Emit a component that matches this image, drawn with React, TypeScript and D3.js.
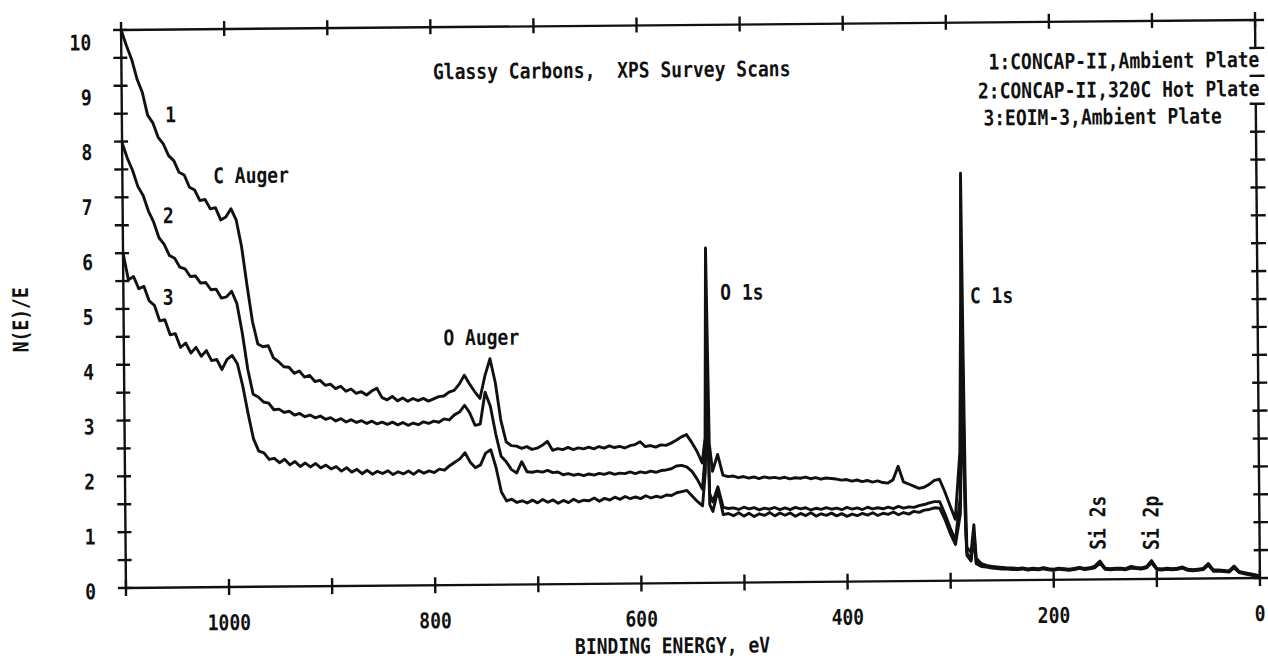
import * as d3 from "d3";

const W = 1268;
const H = 658;
const M = { left: 123.5, right: 1257.5, top: 25, bottom: 583 };
const TILT = -0.5; // the scanned page sits slightly askew
const FONT = "'DejaVu Sans Mono', 'Liberation Mono', monospace";
const INK = "#111";

// binding energy channels, eV (denser around the O 1s and C 1s lines)
const energy = [
  1100, 1095, 1090, 1085, 1080, 1075, 1070, 1065, 1060, 1055,
  1050, 1045, 1040, 1035, 1030, 1025, 1020, 1015, 1010, 1005,
  1000, 995, 990, 985, 980, 975, 970, 965, 960, 955,
  950, 945, 940, 935, 930, 925, 920, 915, 910, 905,
  900, 895, 890, 885, 880, 875, 870, 865, 860, 855,
  850, 845, 840, 835, 830, 825, 820, 815, 810, 805,
  800, 795, 790, 785, 780, 775, 770, 765, 760, 755,
  750, 745, 740, 735, 730, 725, 720, 715, 710, 705,
  700, 695, 690, 685, 680, 675, 670, 665, 660, 655,
  650, 645, 640, 635, 630, 625, 620, 615, 610, 605,
  600, 595, 590, 585, 580, 575, 570, 565, 560, 555,
  550, 545, 540, 537, 535, 533, 530, 525, 520, 515,
  510, 505, 500, 495, 490, 485, 480, 475, 470, 465,
  460, 455, 450, 445, 440, 435, 430, 425, 420, 415,
  410, 405, 400, 395, 390, 385, 380, 375, 370, 365,
  360, 355, 350, 345, 340, 335, 330, 325, 320, 315,
  310, 305, 300, 295, 290, 288, 287, 286, 285, 284,
  280, 277, 275, 270, 265, 260, 255, 250, 245, 240,
  235, 230, 225, 220, 215, 210, 205, 200, 195, 190,
  185, 180, 175, 170, 165, 160, 155, 150, 145, 140,
  135, 130, 125, 120, 115, 110, 105, 100, 95, 90,
  85, 80, 75, 70, 65, 60, 55, 50, 45, 40,
  35, 30, 25, 20, 15, 10, 5, 0,
];

// 1: CONCAP-II, ambient plate
const scan1 = [
  10.0, 9.72, 9.47, 9.12, 8.88, 8.47, 8.33, 8.07, 7.95, 7.74,
  7.65, 7.44, 7.39, 7.17, 7.12, 6.93, 6.95, 6.78, 6.8, 6.58,
  6.63, 6.78, 6.58, 6.1, 5.4, 4.75, 4.35, 4.3, 4.32, 4.1,
  4.03, 3.94, 3.93, 3.82, 3.86, 3.75, 3.78, 3.67, 3.69, 3.6,
  3.62, 3.54, 3.58, 3.49, 3.53, 3.45, 3.48, 3.42, 3.49, 3.54,
  3.37, 3.33, 3.39, 3.31, 3.36, 3.3, 3.35, 3.31, 3.35, 3.3,
  3.34, 3.38, 3.39, 3.46, 3.49, 3.6, 3.76, 3.6, 3.46, 3.34,
  3.75, 4.05, 3.62, 2.95, 2.56, 2.49, 2.48, 2.44, 2.47, 2.42,
  2.44, 2.49, 2.56, 2.4, 2.43, 2.41, 2.45, 2.41, 2.44, 2.42,
  2.45, 2.42, 2.46, 2.43, 2.47, 2.44, 2.46, 2.43, 2.47, 2.49,
  2.54, 2.45, 2.47, 2.44, 2.48, 2.47, 2.51, 2.56, 2.62, 2.66,
  2.52, 2.36, 2.15, 2.6, 6.0, 2.5, 2.0, 2.3, 1.93, 1.9,
  1.91, 1.88, 1.9, 1.87, 1.89, 1.86, 1.89, 1.87, 1.88, 1.86,
  1.88, 1.85, 1.87, 1.86, 1.88, 1.85, 1.87, 1.84, 1.86, 1.85,
  1.84, 1.82, 1.83, 1.8, 1.82, 1.79, 1.81, 1.78, 1.8, 1.77,
  1.76, 1.82, 2.06, 1.78, 1.74, 1.7, 1.66, 1.68, 1.73, 1.8,
  1.82, 1.6, 1.35, 1.1, 2.3, 5.0, 7.3, 4.0, 1.6, 0.6,
  0.5, 1.0, 0.4, 0.3, 0.27, 0.25, 0.24, 0.23, 0.22, 0.22,
  0.21, 0.22, 0.2, 0.21, 0.2, 0.22, 0.2, 0.19, 0.21, 0.2,
  0.19, 0.2, 0.22, 0.2, 0.21, 0.24, 0.33, 0.2, 0.19, 0.2,
  0.2, 0.19, 0.23, 0.21, 0.2, 0.22, 0.33, 0.19, 0.18, 0.19,
  0.18, 0.19, 0.21, 0.17, 0.16, 0.17, 0.18, 0.27, 0.15, 0.15,
  0.14, 0.13, 0.22, 0.12, 0.1, 0.08, 0.06, 0.04,
];

// 2: CONCAP-II, 320C hot plate
const scan2 = [
  7.98, 7.7, 7.48, 7.19, 7.03, 6.75, 6.55, 6.27, 6.15, 5.95,
  5.9, 5.74, 5.71, 5.57, 5.58, 5.45, 5.46, 5.33, 5.34, 5.18,
  5.2, 5.3, 5.08, 4.55, 3.9, 3.45, 3.4, 3.31, 3.29, 3.17,
  3.18, 3.12, 3.14, 3.07, 3.1, 3.04, 3.07, 3.02, 3.05, 2.99,
  3.02, 2.96, 3.0, 2.94, 2.98, 2.93, 2.96, 2.91, 2.95, 2.9,
  2.93, 2.89, 2.93, 2.88, 2.92, 2.87, 2.91, 2.88, 2.93, 2.9,
  2.94, 2.92, 2.98, 2.96, 3.05, 3.1, 3.22, 3.08, 2.86, 2.88,
  3.45, 3.2, 2.7, 2.3, 2.2, 2.06, 2.0, 2.2, 2.02, 2.01,
  2.03, 2.01, 2.04, 2.0, 2.01, 1.96, 1.98, 1.95, 1.97, 1.94,
  1.97, 1.95, 1.98, 1.96, 1.99, 1.96, 1.98, 1.97, 2.0, 1.97,
  2.0, 1.98, 2.01, 1.99, 2.02, 2.03, 2.05, 2.1, 2.11, 2.08,
  2.0, 1.86, 1.68, 2.3, 4.0, 1.6, 1.45, 1.72, 1.35, 1.33,
  1.34, 1.31, 1.35, 1.32, 1.34, 1.3, 1.33, 1.31, 1.34, 1.3,
  1.33, 1.3, 1.34, 1.31, 1.33, 1.29, 1.32, 1.3, 1.33, 1.3,
  1.32, 1.29, 1.33, 1.3, 1.32, 1.29, 1.33, 1.3, 1.32, 1.3,
  1.33, 1.3, 1.34, 1.31, 1.33, 1.32, 1.35, 1.37, 1.4, 1.42,
  1.42, 1.2, 0.95, 0.72, 1.5, 3.5, 5.0, 2.5, 1.0, 0.5,
  0.38, 0.85, 0.32, 0.27, 0.25, 0.24, 0.23, 0.22, 0.21, 0.21,
  0.2, 0.21, 0.19, 0.2, 0.19, 0.21, 0.19, 0.18, 0.2, 0.19,
  0.18, 0.19, 0.21, 0.19, 0.2, 0.22, 0.3, 0.19, 0.18, 0.19,
  0.19, 0.18, 0.21, 0.2, 0.19, 0.21, 0.3, 0.18, 0.17, 0.18,
  0.17, 0.18, 0.2, 0.16, 0.15, 0.16, 0.17, 0.25, 0.14, 0.14,
  0.13, 0.12, 0.2, 0.11, 0.09, 0.07, 0.05, 0.03,
];

// 3: EOIM-3, ambient plate
const scan3 = [
  6.0, 5.52, 5.58, 5.36, 5.4, 5.14, 5.06, 4.78, 4.8, 4.53,
  4.55, 4.3, 4.38, 4.2, 4.3, 4.14, 4.24, 4.06, 4.08, 3.9,
  4.08, 4.15, 4.0, 3.6, 3.1, 2.65, 2.43, 2.4, 2.28, 2.3,
  2.22, 2.28, 2.18, 2.24, 2.15, 2.21, 2.14, 2.2, 2.12, 2.17,
  2.1, 2.14, 2.06, 2.12, 2.04, 2.09, 2.01, 2.07, 2.0, 2.05,
  2.01, 2.06, 1.99, 2.04, 2.0, 2.05, 1.99, 2.06, 2.01, 2.05,
  2.02, 2.08, 2.06, 2.14, 2.2, 2.26, 2.37, 2.2, 2.1, 2.15,
  2.36, 2.42, 2.1, 1.66, 1.5, 1.53, 1.47, 1.5, 1.46, 1.51,
  1.46, 1.52, 1.47, 1.51, 1.45, 1.5, 1.46, 1.52, 1.47, 1.5,
  1.49, 1.54, 1.48, 1.53, 1.5, 1.55, 1.51, 1.56, 1.52, 1.55,
  1.52, 1.57, 1.53, 1.56, 1.54, 1.58, 1.57, 1.62, 1.64, 1.66,
  1.56, 1.46, 1.38, 2.0, 3.5, 1.4, 1.28, 1.66, 1.22, 1.24,
  1.2, 1.25, 1.19, 1.24, 1.18, 1.23, 1.2, 1.25, 1.19, 1.24,
  1.2, 1.24, 1.18, 1.23, 1.19, 1.24, 1.18, 1.22, 1.19, 1.23,
  1.18, 1.22, 1.17, 1.21, 1.18, 1.22, 1.19, 1.23, 1.18, 1.22,
  1.2, 1.24, 1.19, 1.23, 1.2, 1.25, 1.23, 1.27, 1.28, 1.31,
  1.3, 1.1, 0.85, 0.65, 1.2, 2.8, 4.0, 2.0, 0.9, 0.45,
  0.35, 0.8, 0.3, 0.25, 0.24, 0.22, 0.21, 0.2, 0.2, 0.19,
  0.19, 0.2, 0.18, 0.19, 0.18, 0.2, 0.18, 0.17, 0.19, 0.18,
  0.17, 0.18, 0.2, 0.18, 0.19, 0.21, 0.29, 0.18, 0.17, 0.18,
  0.18, 0.17, 0.2, 0.19, 0.18, 0.2, 0.29, 0.17, 0.16, 0.17,
  0.16, 0.17, 0.19, 0.15, 0.14, 0.15, 0.16, 0.24, 0.13, 0.13,
  0.12, 0.11, 0.19, 0.1, 0.08, 0.06, 0.04, 0.02,
];

const xLabelValues = [1000, 800, 600, 400, 200, 0];
const yLabelValues = [0, 1, 2, 3, 4, 5, 6, 7, 8, 9, 10];
const title = "Glassy Carbons,  XPS Survey Scans";
const legendLines = [
  "1:CONCAP-II,Ambient Plate",
  "2:CONCAP-II,320C Hot Plate",
  "3:EOIM-3,Ambient Plate",
];
const curveNumbers = ["1", "2", "3"];
const peakNames = ["C Auger", "O Auger", "O 1s", "C 1s"];
const siNames = ["Si 2s", "Si 2p"];

// where the annotations sit, in data units [eV, N(E)/E]
const curveNumberAt = [[1058, 8.34], [1061, 6.53], [1062, 5.07]];
const peakNameAt = [[1012, 7.24], [790, 4.3], [521, 5.07], [279, 4.97]];
const siNameAt = [[149.5, 0.53], [97.8, 0.52]];

function Label({ x, y, anchor = "start", rotate = 0, children }: any) {
  return (
    <text
      transform={`translate(${x},${y}) rotate(${rotate}) scale(1,1.2)`}
      textAnchor={anchor}
      fontFamily={FONT}
      fontWeight="bold"
      fontSize={18}
      fill={INK}
      style={{ whiteSpace: "pre" }}
    >
      {children}
    </text>
  );
}

export default function App() {
  const x = d3.scaleLinear().domain([1100, 0]).range([M.left, M.right]);
  const y = d3.scaleLinear().domain([0, 10]).range([M.bottom, M.top]);
  // printed tick numbers drift a little against the ticks, so they get their own scale
  const yLabel = d3.scaleLinear().domain([0, 10]).range([M.bottom + 11, M.top + 20]);

  const line = d3
    .line<number>()
    .x((_, i) => x(energy[i]))
    .y((d) => y(d));

  const xTicks = x.ticks(11);
  const yTicks = y.ticks(20);

  return (
    <svg
      width={W}
      height={H}
      style={{ position: "absolute", left: 0, top: 0, background: "#fff" }}
    >
      <g transform={`rotate(${TILT} ${W / 2 + 56} ${H / 2 - 25})`}>
        {/* curves */}
        {[scan1, scan2, scan3].map((s, i) => (
          <path
            key={i}
            d={line(s) || ""}
            fill="none"
            stroke={INK}
            strokeWidth={2.9}
            strokeLinejoin="round"
          />
        ))}

        {/* frame */}
        <g stroke={INK} strokeWidth={2.4} fill="none">
          <line x1={M.left} x2={M.right} y1={M.bottom} y2={M.bottom} />
          <line x1={M.left} x2={M.right} y1={M.top} y2={M.top} />
          <line x1={M.left} x2={M.left} y1={M.top} y2={M.bottom} />
          <line x1={M.right} x2={M.right} y1={y(10)} y2={y(9.5)} />
          <line x1={M.right} x2={M.right} y1={y(8.5)} y2={y(0)} />
          {xTicks.map((t) => (
            <g key={"x" + t}>
              <line x1={x(t)} x2={x(t)} y1={M.bottom - 8} y2={M.bottom + 8} />
              <line x1={x(t)} x2={x(t)} y1={M.top - 8} y2={M.top + 7} />
            </g>
          ))}
          {yTicks.map((t) => (
            <g key={"y" + t}>
              <line x1={M.left - 8} x2={M.left + 6} y1={y(t)} y2={y(t)} />
              <line x1={M.right - 6} x2={M.right + 9} y1={y(t)} y2={y(t)} />
            </g>
          ))}
        </g>

        {/* tick numbers */}
        {xLabelValues.map((v) => (
          <Label key={"xl" + v} x={x(v)} y={M.bottom + 43} anchor="middle">
            {v}
          </Label>
        ))}
        {yLabelValues.map((v) => (
          <Label key={"yl" + v} x={M.left - 30} y={yLabel(v)} anchor="end">
            {v}
          </Label>
        ))}

        {/* axis titles */}
        <Label x={572} y={H - 5}>BINDING ENERGY, eV</Label>
        <Label x={28} y={314} anchor="middle" rotate={-90}>
          N(E)/E
        </Label>

        {/* title and legend */}
        <Label x={435} y={77}>{title}</Label>
        <Label x={M.right + 4} y={72} anchor="end">{legendLines[0]}</Label>
        <Label x={M.right + 4} y={101} anchor="end">{legendLines[1]}</Label>
        <Label x={985} y={128}>{legendLines[2]}</Label>

        {/* annotations */}
        {curveNumbers.map((n, i) => (
          <Label key={"n" + n} x={x(curveNumberAt[i][0])} y={y(curveNumberAt[i][1])}>
            {n}
          </Label>
        ))}
        {peakNames.map((n, i) => (
          <Label key={n} x={x(peakNameAt[i][0])} y={y(peakNameAt[i][1])}>
            {n}
          </Label>
        ))}
        {siNames.map((n, i) => (
          <Label key={n} x={x(siNameAt[i][0])} y={y(siNameAt[i][1])} rotate={-90}>
            {n}
          </Label>
        ))}
      </g>
    </svg>
  );
}
